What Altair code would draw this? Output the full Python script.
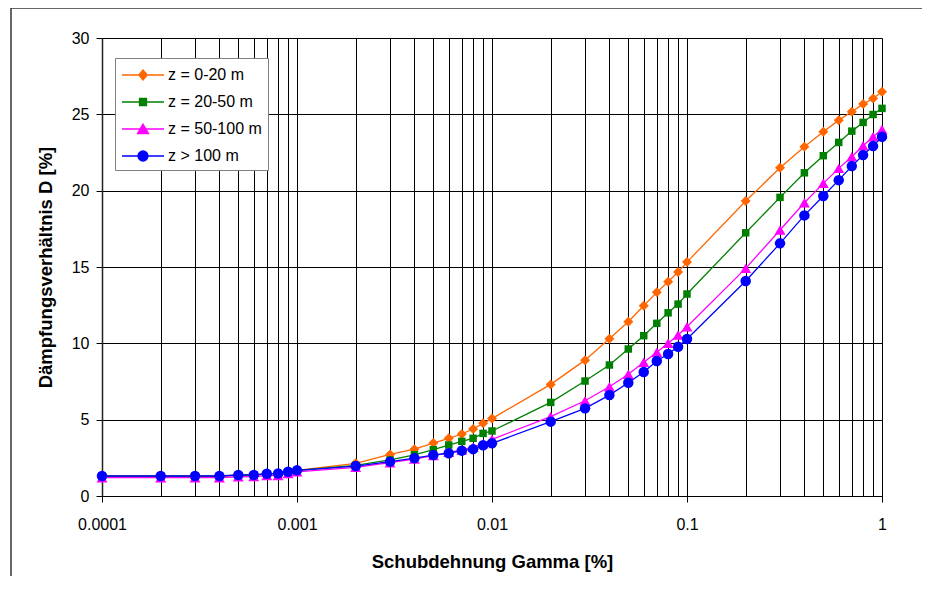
import altair as alt
import pandas as pd

gamma = [0.0001, 0.0002, 0.0003, 0.0004, 0.0005, 0.0006, 0.0007, 0.0008, 0.0009,
         0.001, 0.002, 0.003, 0.004, 0.005, 0.006, 0.007, 0.008, 0.009,
         0.01, 0.02, 0.03, 0.04, 0.05, 0.06, 0.07, 0.08, 0.09,
         0.1, 0.2, 0.3, 0.4, 0.5, 0.6, 0.7, 0.8, 0.9, 1.0]

d_0_20 = [1.30, 1.30, 1.30, 1.30, 1.36, 1.37, 1.45, 1.46, 1.58,
          1.68, 2.14, 2.72, 3.07, 3.47, 3.78, 4.06, 4.39, 4.76,
          5.07, 7.31, 8.90, 10.30, 11.41, 12.46, 13.34, 14.04, 14.67,
          15.32, 19.32, 21.50, 22.87, 23.86, 24.62, 25.17, 25.67, 26.04, 26.48]

d_20_50 = [1.30, 1.30, 1.30, 1.30, 1.36, 1.37, 1.45, 1.46, 1.58,
           1.67, 2.00, 2.36, 2.70, 3.03, 3.34, 3.58, 3.78, 4.10,
           4.26, 6.13, 7.53, 8.58, 9.63, 10.50, 11.31, 12.00, 12.57,
           13.23, 17.24, 19.56, 21.17, 22.29, 23.16, 23.90, 24.47, 24.99, 25.39]

d_50_100 = [1.20, 1.20, 1.20, 1.20, 1.26, 1.27, 1.34, 1.35, 1.47,
            1.58, 1.88, 2.18, 2.42, 2.65, 2.86, 3.02, 3.20, 3.42,
            3.71, 5.20, 6.24, 7.16, 7.97, 8.76, 9.41, 10.00, 10.54,
            11.09, 14.91, 17.42, 19.21, 20.48, 21.46, 22.22, 22.94, 23.53, 24.01]

d_100 = [1.31, 1.31, 1.31, 1.31, 1.38, 1.38, 1.46, 1.47, 1.59,
         1.68, 1.96, 2.25, 2.48, 2.68, 2.80, 2.97, 3.07, 3.32,
         3.45, 4.87, 5.74, 6.61, 7.42, 8.12, 8.84, 9.30, 9.78,
         10.28, 14.08, 16.55, 18.38, 19.65, 20.69, 21.61, 22.33, 22.92, 23.53]

names = ["z = 0-20 m", "z = 20-50 m", "z = 50-100 m", "z > 100 m"]
colors = ["#FF6600", "#008000", "#FF00FF", "#0000FF"]
shapes = ["diamond", "square", "triangle-up", "circle"]
sizes = [100, 56, 120, 110]
y_ticks = [0, 5, 10, 15, 20, 25, 30]

# legend symbols: line segment plus marker
legend_paths = [
    "M-2.1,0L2.1,0M0,-0.5L0.42,0L0,0.5L-0.42,0Z",
    "M-2.1,0L2.1,0M-0.35,-0.35L0.35,-0.35L0.35,0.35L-0.35,0.35Z",
    "M-2.1,0L2.1,0M0,-0.5L0.55,0.45L-0.55,0.45Z",
    "M-2.1,0L2.1,0M0.5,0A0.5,0.5,0,1,1,-0.5,0A0.5,0.5,0,1,1,0.5,0Z",
]

series_data = [d_0_20, d_20_50, d_50_100, d_100]
rows = []
for name, vals in zip(names, series_data):
    for g, v in zip(gamma, vals):
        rows.append({"gamma": g, "D": v, "series": name})
df = pd.DataFrame(rows)

FONT = "Liberation Sans"
decade = "abs(log(datum.value)/LN10 - round(log(datum.value)/LN10)) < 1e-6"

x_enc = alt.X(
    "gamma:Q",
    scale=alt.Scale(type="log", domain=[0.0001, 1], nice=False),
    axis=alt.Axis(
        values=gamma, format="~g", grid=True, gridColor="#000000", gridWidth=1,
        gridOpacity=1,
        labelExpr=f"({decade}) ? datum.label : ''",
        tickOpacity={"condition": {"test": decade, "value": 1}, "value": 0},
        tickColor="#000000", tickSize=6, tickWidth=1,
        labelFont=FONT, labelFontSize=16, labelColor="#000000", labelPadding=14,
        labelFlush=False, labelOverlap=False,
        domainColor="#000000", domainWidth=1,
        title="Schubdehnung Gamma [%]", titleFont=FONT, titleFontSize=18.5,
        titleFontWeight="bold", titleColor="#000000", titlePadding=20,
    ),
)
y_enc = alt.Y(
    "D:Q",
    scale=alt.Scale(domain=[0, 30], nice=False),
    axis=alt.Axis(
        values=y_ticks, grid=True, gridColor="#000000", gridWidth=1, gridOpacity=1,
        tickColor="#000000", tickSize=6, tickWidth=1,
        labelFont=FONT, labelFontSize=16, labelColor="#000000", labelPadding=7,
        domainColor="#222222", domainWidth=1.5,
        title="Dämpfungsverhältnis D [%]", titleFont=FONT, titleFontSize=18.5,
        titleFontWeight="bold", titleColor="#000000", titlePadding=16,
    ),
)

color_scale = alt.Scale(domain=names, range=colors)

layers = []
for name, shp, sz in zip(names, shapes, sizes):
    sub = alt.Chart(df).transform_filter(alt.datum.series == name)
    layers.append(
        sub.mark_line(strokeWidth=1.3).encode(
            x=x_enc, y=y_enc,
            color=alt.Color("series:N", scale=color_scale, legend=None),
        )
    )
    layers.append(
        sub.mark_point(filled=True, shape=shp, size=sz, opacity=1).encode(
            x=x_enc, y=y_enc,
            color=alt.Color("series:N", scale=color_scale, legend=None),
        )
    )

leg = alt.Legend(
    title=None, orient="none", legendX=13, legendY=20,
    padding=6, strokeColor="#808080", fillColor="#FFFFFF",
    labelFont=FONT, labelFontSize=16, labelColor="#000000",
    rowPadding=8, symbolOffset=11, labelOffset=14,
    symbolSize=400, symbolStrokeWidth=1.3, symbolOpacity=1,
)

legend_layer = alt.Chart(df).mark_point(
    filled=True, size=400, strokeWidth=1.3, opacity=0
).encode(
    x=x_enc, y=y_enc,
    fill=alt.Fill("series:N", scale=alt.Scale(domain=names, range=colors), legend=leg),
    stroke=alt.Stroke("series:N", scale=alt.Scale(domain=names, range=colors), legend=leg),
    shape=alt.Shape("series:N", scale=alt.Scale(domain=names, range=legend_paths), legend=leg),
)

one = pd.DataFrame({"k": [0]})
frame_top = alt.Chart(one).mark_rule(color="#333333", strokeWidth=1.5).encode(
    x=alt.value(-91), x2=alt.value(830), y=alt.value(-30)
)
frame_left = alt.Chart(one).mark_rule(color="#333333", strokeWidth=1.5).encode(
    x=alt.value(-91), y=alt.value(-30), y2=alt.value(560)
)

chart = alt.layer(legend_layer, *layers, frame_top, frame_left).properties(
    width=780, height=458,
    autosize=alt.AutoSizeParams(type="none"),
    padding={"left": 94, "top": 30, "right": 40, "bottom": 80},
).configure_view(
    stroke="#222222", strokeWidth=1.5
).configure(background="#FFFFFF")

chart.save("out.html", embed_options={"renderer": "svg", "actions": False})
